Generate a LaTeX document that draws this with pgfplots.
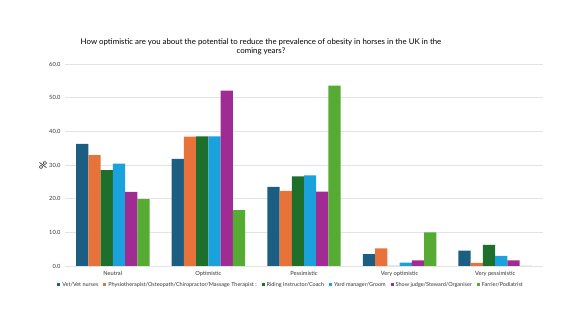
\documentclass[border=0pt]{standalone}
\usepackage{pgfplots}
\pgfplotsset{compat=1.18}
\usepackage{fontspec}
\setmainfont{Lato}
\definecolor{cVet}{HTML}{1B5E82}
\definecolor{cPhy}{HTML}{E8733A}
\definecolor{cRid}{HTML}{1E6E2C}
\definecolor{cYard}{HTML}{1BA1DB}
\definecolor{cShow}{HTML}{A02C93}
\definecolor{cFar}{HTML}{56AB32}
\definecolor{cGrid}{HTML}{E3E3E3}
\definecolor{cText}{HTML}{333333}
\begin{document}
\begin{tikzpicture}[x=1pt,y=1pt]
\path (0,0) rectangle (580,326);
\node[align=center,font=\fontsize{7.85}{9.2}\selectfont,text=black] at (261,279.5)
 {How optimistic are you about the potential to reduce the prevalence of obesity in horses in the UK in the\\coming years?};
\begin{axis}[
  at={(65pt,60pt)}, anchor=south west,
  scale only axis, width=478pt, height=202pt,
  ybar=0pt, bar width=0.128,
  xmin=-0.5, xmax=4.5, ymin=0, ymax=60,
  xtick={0,1,2,3,4},
  xticklabels={Neutral,Optimistic,Pessimistic,Very optimistic,Very pessimistic},
  ytick={0,10,20,30,40,50,60},
  axis line style={draw=none},
  tick style={draw=none},
  ymajorgrids, grid style={cGrid,line width=0.8pt},
  major tick length=0pt,
  /pgf/number format/.cd, fixed, fixed zerofill, precision=1, assume math mode=true,
  /pgfplots/.cd,
  ticklabel style={font=\fontsize{5.7}{6}\selectfont,text=cText},
  yticklabel style={xshift=-1pt},
  xticklabel style={yshift=-2pt},
  ylabel={\%}, ylabel style={font=\fontsize{5.7}{6}\selectfont,text=cText},
  every axis y label/.style={at={(axis description cs:-0.046,0.5)},rotate=90,anchor=center},
  legend columns=6,
  legend style={at={(axis description cs:0.473,-0.094)},anchor=center,draw=none,
    font=\fontsize{5.5}{6}\selectfont,text=cText,/tikz/every even column/.append style={column sep=3pt},
    inner sep=0pt},
  legend image code/.code={\fill[#1] (0pt,-1.5pt) rectangle (3pt,1.5pt);},
  every axis plot/.append style={draw=none},
]
\addplot[fill=cVet] coordinates {(0,36.3) (1,31.8) (2,23.5) (3,3.5) (4,4.6)};
\addplot[fill=cPhy] coordinates {(0,32.9) (1,38.4) (2,22.3) (3,5.2) (4,0.9)};
\addplot[fill=cRid] coordinates {(0,28.5) (1,38.5) (2,26.6) (3,0) (4,6.3)};
\addplot[fill=cYard] coordinates {(0,30.4) (1,38.5) (2,26.9) (3,1.0) (4,3.0)};
\addplot[fill=cShow] coordinates {(0,22.0) (1,52.1) (2,22.1) (3,1.7) (4,1.7)};
\addplot[fill=cFar] coordinates {(0,19.9) (1,16.6) (2,53.6) (3,10.0) (4,0)};
\legend{Vet/Vet nurses,Physiotherapist/Osteopath/Chiropractor/Massage Therapist :,Riding Instructor/Coach,Yard manager/Groom,Show judge/Steward/Organiser,Farrier/Podiatrist}
\end{axis}
\end{tikzpicture}
\end{document}
